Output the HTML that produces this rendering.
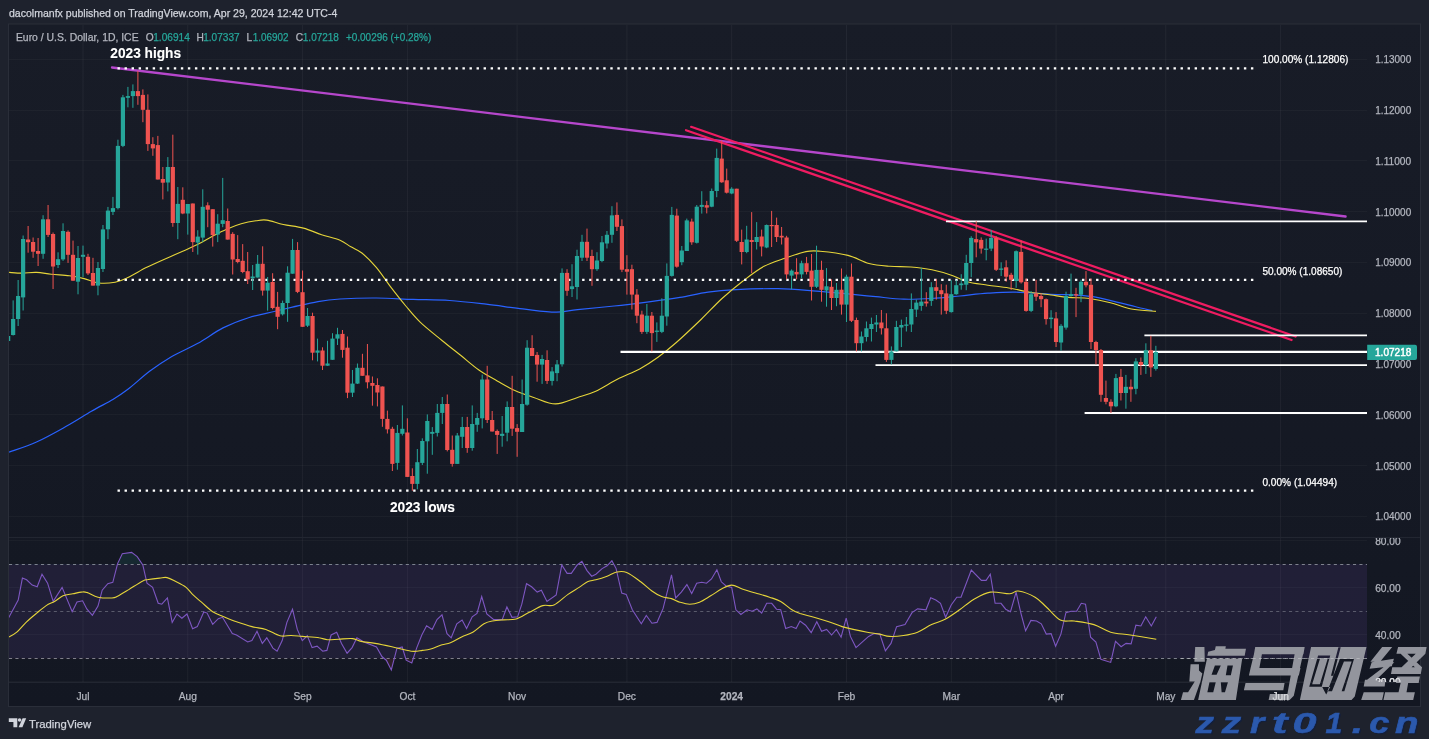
<!DOCTYPE html>
<html><head><meta charset="utf-8"><style>
html,body{margin:0;padding:0;background:#1e222d;width:1429px;height:739px;overflow:hidden}
svg{position:absolute;left:0;top:0;display:block;will-change:transform}
text{font-family:"Liberation Sans",sans-serif;white-space:pre}
</style></head><body>
<svg width="1429" height="739" viewBox="0 0 1429 739">

<text x="9" y="17.2" font-size="10.8" fill="#d1d4dc" stroke="#d1d4dc" stroke-width="0.25" textLength="328.3" lengthAdjust="spacingAndGlyphs">dacolmanfx published on TradingView.com, Apr 29, 2024 12:42 UTC-4</text>
<defs><linearGradient id="bgg" x1="0" y1="0" x2="0" y2="1"><stop offset="0" stop-color="#181c27"/><stop offset="1" stop-color="#131722"/></linearGradient></defs>
<rect x="8.5" y="24" width="1412" height="682.5" fill="url(#bgg)" stroke="#2a2e39" stroke-width="1"/>
<defs><clipPath id="pp"><rect x="9" y="25" width="1358" height="512"/></clipPath><clipPath id="rp"><rect x="9" y="538" width="1358" height="144"/></clipPath><clipPath id="ra"><rect x="1367" y="538" width="53" height="144"/></clipPath></defs>
<line x1="9" y1="59.5" x2="1367" y2="59.5" stroke="#ffffff" stroke-opacity="0.03" stroke-width="1"/><line x1="9" y1="110.5" x2="1367" y2="110.5" stroke="#ffffff" stroke-opacity="0.03" stroke-width="1"/><line x1="9" y1="160.5" x2="1367" y2="160.5" stroke="#ffffff" stroke-opacity="0.03" stroke-width="1"/><line x1="9" y1="211.5" x2="1367" y2="211.5" stroke="#ffffff" stroke-opacity="0.03" stroke-width="1"/><line x1="9" y1="262.5" x2="1367" y2="262.5" stroke="#ffffff" stroke-opacity="0.03" stroke-width="1"/><line x1="9" y1="313.5" x2="1367" y2="313.5" stroke="#ffffff" stroke-opacity="0.03" stroke-width="1"/><line x1="9" y1="364.5" x2="1367" y2="364.5" stroke="#ffffff" stroke-opacity="0.03" stroke-width="1"/><line x1="9" y1="414.5" x2="1367" y2="414.5" stroke="#ffffff" stroke-opacity="0.03" stroke-width="1"/><line x1="9" y1="465.5" x2="1367" y2="465.5" stroke="#ffffff" stroke-opacity="0.03" stroke-width="1"/><line x1="9" y1="516.5" x2="1367" y2="516.5" stroke="#ffffff" stroke-opacity="0.03" stroke-width="1"/><line x1="83.0" y1="25" x2="83.0" y2="682" stroke="#ffffff" stroke-opacity="0.05" stroke-width="1"/><line x1="187.8" y1="25" x2="187.8" y2="682" stroke="#ffffff" stroke-opacity="0.05" stroke-width="1"/><line x1="302.6" y1="25" x2="302.6" y2="682" stroke="#ffffff" stroke-opacity="0.05" stroke-width="1"/><line x1="407.4" y1="25" x2="407.4" y2="682" stroke="#ffffff" stroke-opacity="0.05" stroke-width="1"/><line x1="517.1" y1="25" x2="517.1" y2="682" stroke="#ffffff" stroke-opacity="0.05" stroke-width="1"/><line x1="626.9" y1="25" x2="626.9" y2="682" stroke="#ffffff" stroke-opacity="0.05" stroke-width="1"/><line x1="731.7" y1="25" x2="731.7" y2="682" stroke="#ffffff" stroke-opacity="0.05" stroke-width="1"/><line x1="846.5" y1="25" x2="846.5" y2="682" stroke="#ffffff" stroke-opacity="0.05" stroke-width="1"/><line x1="951.3" y1="25" x2="951.3" y2="682" stroke="#ffffff" stroke-opacity="0.05" stroke-width="1"/><line x1="1056.1" y1="25" x2="1056.1" y2="682" stroke="#ffffff" stroke-opacity="0.05" stroke-width="1"/><line x1="1165.8" y1="25" x2="1165.8" y2="682" stroke="#ffffff" stroke-opacity="0.05" stroke-width="1"/><line x1="1280.6" y1="25" x2="1280.6" y2="682" stroke="#ffffff" stroke-opacity="0.05" stroke-width="1"/>
<rect x="9" y="564.2" width="1358" height="94.1" fill="#7e57c2" fill-opacity="0.13"/>
<line x1="9" y1="540.5" x2="1367" y2="540.5" stroke="#ffffff" stroke-opacity="0.03" stroke-width="1"/>
<line x1="9" y1="587.5" x2="1367" y2="587.5" stroke="#ffffff" stroke-opacity="0.03" stroke-width="1"/>
<line x1="9" y1="634.5" x2="1367" y2="634.5" stroke="#ffffff" stroke-opacity="0.03" stroke-width="1"/>
<line x1="9" y1="681.5" x2="1367" y2="681.5" stroke="#ffffff" stroke-opacity="0.03" stroke-width="1"/>
<line x1="9" y1="564.5" x2="1367" y2="564.5" stroke="#8a8d98" stroke-width="1" stroke-dasharray="3.1,3.3" opacity="0.9"/>
<line x1="9" y1="611.5" x2="1367" y2="611.5" stroke="#8a8d98" stroke-width="1" stroke-dasharray="3.1,3.3" opacity="0.55"/>
<line x1="9" y1="658.5" x2="1367" y2="658.5" stroke="#8a8d98" stroke-width="1" stroke-dasharray="3.1,3.3" opacity="0.9"/>
<line x1="9" y1="537.5" x2="1420" y2="537.5" stroke="#222631" stroke-width="1"/>
<line x1="9" y1="682.5" x2="1420" y2="682.5" stroke="#222631" stroke-width="1"/>
<g clip-path="url(#pp)">
<path d="M9.1,452.2 C13.7,450.5 27.1,446.3 36.5,442.0 C46.0,437.7 56.6,431.7 65.8,426.6 C75.0,421.5 83.5,415.9 91.4,411.3 C99.3,406.7 107.2,402.9 113.3,399.2 C119.4,395.5 121.8,394.0 127.9,389.3 C134.0,384.6 142.6,376.6 149.9,371.1 C157.2,365.6 163.9,361.0 171.8,356.4 C179.7,351.8 188.9,348.4 197.4,343.6 C205.9,338.9 214.5,332.2 223.0,327.9 C231.5,323.6 240.0,320.4 248.5,317.7 C257.0,315.0 266.8,313.3 274.1,311.5 C281.4,309.7 285.1,308.8 292.4,307.1 C299.7,305.5 310.1,303.0 318.0,301.6 C325.9,300.2 330.2,299.6 340.0,299.0 C349.8,298.4 364.3,297.9 376.5,298.0 C388.7,298.1 400.9,299.0 413.1,299.4 C425.3,299.8 437.4,299.7 449.6,300.5 C461.8,301.3 474.0,302.8 486.2,304.2 C498.4,305.6 511.1,307.6 522.7,308.9 C534.3,310.2 546.5,312.1 555.6,312.2 C564.8,312.3 567.9,310.6 577.6,309.6 C587.4,308.6 601.9,307.3 614.1,306.0 C626.3,304.7 639.7,303.0 650.7,301.6 C661.7,300.2 670.5,299.0 680.0,297.4 C689.5,295.8 698.7,293.5 708.0,292.2 C717.3,290.9 724.3,290.3 736.0,289.7 C747.7,289.1 765.2,288.5 778.0,288.7 C790.8,288.9 801.3,289.9 813.0,290.8 C824.7,291.7 837.5,292.9 848.0,293.9 C858.5,294.9 866.6,295.8 875.9,296.7 C885.2,297.6 894.6,298.9 903.9,299.2 C913.2,299.5 922.6,299.0 931.9,298.5 C941.2,298.0 950.6,296.9 959.9,296.0 C969.2,295.1 978.6,293.8 987.9,293.2 C997.2,292.6 1005.4,292.0 1015.9,292.2 C1026.4,292.4 1041.0,293.8 1050.9,294.3 C1060.8,294.8 1068.4,294.6 1075.4,295.0 C1082.4,295.4 1086.5,295.6 1092.9,296.7 C1099.3,297.8 1106.9,299.7 1113.9,301.3 C1120.9,302.9 1128.5,304.9 1134.9,306.5 C1141.3,308.1 1149.5,310.0 1152.4,310.7" fill="none" stroke="#2962ff" stroke-width="1.2"/>
<path d="M9.1,272.4 C11.2,272.5 17.3,273.1 21.9,273.1 C26.5,273.1 31.6,272.2 36.5,272.4 C41.4,272.6 45.7,273.6 51.2,274.2 C56.7,274.8 63.9,275.0 69.4,275.7 C74.9,276.4 79.2,277.4 84.1,278.6 C89.0,279.8 93.5,282.4 98.7,283.0 C103.9,283.6 110.2,283.1 115.1,282.2 C120.0,281.3 122.7,279.9 127.9,277.5 C133.1,275.1 140.1,270.7 146.2,267.6 C152.3,264.6 158.4,261.9 164.5,259.2 C170.6,256.5 177.2,253.6 182.7,251.2 C188.2,248.8 192.5,247.0 197.4,244.6 C202.3,242.2 207.1,239.1 212.0,236.5 C216.9,233.9 221.7,231.3 226.6,229.2 C231.5,227.1 236.3,225.2 241.2,223.8 C246.1,222.4 251.5,221.4 255.8,220.8 C260.1,220.2 262.2,219.5 266.8,220.1 C271.4,220.7 277.2,223.2 283.3,224.5 C289.4,225.8 297.0,226.4 303.4,228.1 C309.8,229.8 315.5,232.7 321.6,234.7 C327.7,236.7 335.1,238.2 340.0,240.2 C344.9,242.2 347.2,244.7 350.9,246.8 C354.5,248.9 357.6,249.5 361.9,253.0 C366.2,256.5 371.6,261.8 376.5,267.6 C381.4,273.4 386.3,281.3 391.2,287.7 C396.1,294.1 400.9,300.2 405.8,306.0 C410.7,311.8 414.3,316.6 420.4,322.4 C426.5,328.2 435.6,335.2 442.3,340.7 C449.0,346.2 454.5,350.4 460.6,355.3 C466.7,360.2 472.8,365.7 478.9,370.0 C485.0,374.3 491.1,377.4 497.2,380.9 C503.3,384.4 509.3,388.1 515.4,390.8 C521.5,393.6 527.0,395.2 533.7,397.4 C540.4,399.6 548.3,403.9 555.6,403.9 C562.9,403.9 570.9,399.5 577.6,397.4 C584.3,395.3 589.1,394.2 595.8,391.2 C602.5,388.1 610.5,382.8 617.8,379.1 C625.1,375.4 633.0,372.5 639.7,368.9 C646.4,365.2 651.9,361.6 658.0,357.2 C664.1,352.8 669.1,348.8 676.3,342.5 C683.5,336.2 693.4,326.8 701.0,319.5 C708.6,312.2 715.0,304.9 722.0,298.5 C729.0,292.1 736.0,286.4 743.0,281.0 C750.0,275.6 757.0,270.1 764.0,266.3 C771.0,262.5 778.0,260.6 785.0,258.2 C792.0,255.8 800.2,252.8 806.0,251.6 C811.8,250.4 813.0,250.6 820.0,251.2 C827.0,251.8 839.9,253.3 848.0,255.4 C856.1,257.4 861.9,261.7 868.9,263.5 C875.9,265.3 882.9,265.7 889.9,266.3 C896.9,266.9 903.9,266.4 910.9,267.0 C917.9,267.6 924.9,268.4 931.9,269.8 C938.9,271.2 947.1,273.7 952.9,275.7 C958.7,277.7 961.1,280.1 966.9,281.7 C972.7,283.3 980.9,284.1 987.9,285.2 C994.9,286.2 1001.9,286.8 1008.9,288.0 C1015.9,289.2 1022.9,291.0 1029.9,292.2 C1036.9,293.4 1044.5,294.1 1050.9,295.0 C1057.3,295.9 1062.0,296.8 1068.4,297.4 C1074.8,298.0 1082.4,297.6 1089.4,298.5 C1096.4,299.4 1103.4,300.9 1110.4,302.7 C1117.4,304.4 1123.8,307.6 1131.4,309.0 C1139.0,310.4 1151.8,311.0 1155.9,311.4" fill="none" stroke="#e6d53a" stroke-width="1.1"/>
<line x1="112" y1="67.5" x2="1345.6" y2="216.5" stroke="#b647cc" stroke-width="2.3" stroke-linecap="round"/>
<line x1="691.1" y1="126.8" x2="1295.7" y2="336.5" stroke="#ef1c61" stroke-width="2.2" stroke-linecap="round"/>
<line x1="686" y1="130.2" x2="1291.6" y2="340" stroke="#ef1c61" stroke-width="2.2" stroke-linecap="round"/>
<line x1="117.5" y1="68.4" x2="1254" y2="68.4" stroke="#ffffff" stroke-width="2.2" stroke-dasharray="2.4,4.64"/>
<line x1="117.5" y1="279.9" x2="1254" y2="279.9" stroke="#ffffff" stroke-width="2.2" stroke-dasharray="2.4,4.64"/>
<line x1="117.5" y1="490.6" x2="1254" y2="490.6" stroke="#ffffff" stroke-width="2.2" stroke-dasharray="2.4,4.64"/>
<line x1="946" y1="221.3" x2="1367" y2="221.3" stroke="#ffffff" stroke-width="1.8"/>
<line x1="620.5" y1="351.9" x2="1367" y2="351.9" stroke="#ffffff" stroke-width="2.2"/>
<line x1="875.5" y1="365.1" x2="1367" y2="365.1" stroke="#ffffff" stroke-width="1.8"/>
<line x1="1144.4" y1="335.3" x2="1367" y2="335.3" stroke="#ffffff" stroke-width="1.8"/>
<line x1="1084.6" y1="413" x2="1367" y2="413" stroke="#ffffff" stroke-width="1.8"/>
<rect x="7.65" y="334.0" width="1" height="8.0" fill="#26a69a"/><rect x="6.05" y="336.0" width="4.2" height="5.0" fill="#26a69a"/><rect x="12.64" y="300.4" width="1" height="35.1" fill="#26a69a"/><rect x="11.04" y="319.0" width="4.2" height="16.0" fill="#26a69a"/><rect x="17.63" y="280.0" width="1" height="46.0" fill="#26a69a"/><rect x="16.03" y="296.0" width="4.2" height="23.0" fill="#26a69a"/><rect x="22.62" y="235.5" width="1" height="75.0" fill="#26a69a"/><rect x="21.02" y="239.0" width="4.2" height="58.4" fill="#26a69a"/><rect x="27.61" y="226.0" width="1" height="26.7" fill="#ef5350"/><rect x="26.01" y="239.5" width="4.2" height="2.7" fill="#ef5350"/><rect x="32.60" y="237.5" width="1" height="20.3" fill="#ef5350"/><rect x="31.00" y="242.0" width="4.2" height="9.7" fill="#ef5350"/><rect x="37.59" y="238.0" width="1" height="28.0" fill="#ef5350"/><rect x="35.99" y="251.0" width="4.2" height="2.8" fill="#ef5350"/><rect x="42.58" y="215.2" width="1" height="43.6" fill="#26a69a"/><rect x="40.98" y="219.3" width="4.2" height="34.5" fill="#26a69a"/><rect x="47.57" y="205.0" width="1" height="32.0" fill="#ef5350"/><rect x="45.97" y="219.3" width="4.2" height="15.6" fill="#ef5350"/><rect x="52.56" y="232.5" width="1" height="56.5" fill="#ef5350"/><rect x="50.96" y="234.0" width="4.2" height="32.5" fill="#ef5350"/><rect x="57.55" y="252.3" width="1" height="15.7" fill="#26a69a"/><rect x="55.95" y="259.2" width="4.2" height="5.8" fill="#26a69a"/><rect x="62.54" y="223.3" width="1" height="37.6" fill="#26a69a"/><rect x="60.94" y="231.0" width="4.2" height="28.4" fill="#26a69a"/><rect x="67.53" y="230.4" width="1" height="32.5" fill="#ef5350"/><rect x="65.93" y="231.8" width="4.2" height="23.0" fill="#ef5350"/><rect x="72.52" y="240.6" width="1" height="40.4" fill="#ef5350"/><rect x="70.92" y="254.8" width="4.2" height="25.9" fill="#ef5350"/><rect x="77.51" y="246.0" width="1" height="48.3" fill="#26a69a"/><rect x="75.91" y="258.0" width="4.2" height="23.7" fill="#26a69a"/><rect x="82.50" y="245.6" width="1" height="31.4" fill="#26a69a"/><rect x="80.90" y="254.8" width="4.2" height="2.0" fill="#26a69a"/><rect x="87.49" y="253.8" width="1" height="21.2" fill="#ef5350"/><rect x="85.89" y="256.8" width="4.2" height="16.6" fill="#ef5350"/><rect x="92.48" y="257.8" width="1" height="27.8" fill="#ef5350"/><rect x="90.88" y="273.0" width="4.2" height="12.6" fill="#ef5350"/><rect x="97.47" y="262.0" width="1" height="33.3" fill="#26a69a"/><rect x="95.87" y="268.0" width="4.2" height="17.6" fill="#26a69a"/><rect x="102.46" y="225.0" width="1" height="47.0" fill="#26a69a"/><rect x="100.86" y="229.4" width="4.2" height="39.6" fill="#26a69a"/><rect x="107.45" y="206.9" width="1" height="32.3" fill="#26a69a"/><rect x="105.85" y="210.6" width="4.2" height="18.7" fill="#26a69a"/><rect x="112.44" y="196.9" width="1" height="18.1" fill="#26a69a"/><rect x="110.84" y="208.1" width="4.2" height="3.8" fill="#26a69a"/><rect x="117.43" y="139.7" width="1" height="69.7" fill="#26a69a"/><rect x="115.83" y="145.9" width="4.2" height="62.2" fill="#26a69a"/><rect x="122.42" y="94.9" width="1" height="52.2" fill="#26a69a"/><rect x="120.82" y="97.3" width="4.2" height="48.6" fill="#26a69a"/><rect x="127.41" y="86.9" width="1" height="20.4" fill="#26a69a"/><rect x="125.81" y="96.1" width="4.2" height="1.7" fill="#26a69a"/><rect x="132.40" y="84.4" width="1" height="23.4" fill="#26a69a"/><rect x="130.80" y="91.1" width="4.2" height="5.0" fill="#26a69a"/><rect x="137.39" y="70.8" width="1" height="34.0" fill="#ef5350"/><rect x="135.79" y="91.1" width="4.2" height="5.0" fill="#ef5350"/><rect x="142.38" y="89.4" width="1" height="32.8" fill="#ef5350"/><rect x="140.78" y="94.9" width="4.2" height="14.9" fill="#ef5350"/><rect x="147.37" y="94.4" width="1" height="56.5" fill="#ef5350"/><rect x="145.77" y="109.8" width="4.2" height="34.3" fill="#ef5350"/><rect x="152.36" y="137.2" width="1" height="18.6" fill="#ef5350"/><rect x="150.76" y="144.1" width="4.2" height="4.3" fill="#ef5350"/><rect x="157.35" y="135.9" width="1" height="43.6" fill="#ef5350"/><rect x="155.75" y="145.1" width="4.2" height="34.4" fill="#ef5350"/><rect x="162.34" y="167.0" width="1" height="32.4" fill="#ef5350"/><rect x="160.74" y="179.0" width="4.2" height="3.7" fill="#ef5350"/><rect x="167.33" y="157.1" width="1" height="34.3" fill="#26a69a"/><rect x="165.73" y="167.0" width="4.2" height="15.5" fill="#26a69a"/><rect x="172.32" y="134.7" width="1" height="92.1" fill="#ef5350"/><rect x="170.72" y="167.0" width="4.2" height="56.0" fill="#ef5350"/><rect x="177.31" y="187.0" width="1" height="52.2" fill="#26a69a"/><rect x="175.71" y="203.9" width="4.2" height="19.1" fill="#26a69a"/><rect x="182.30" y="187.3" width="1" height="26.9" fill="#ef5350"/><rect x="180.70" y="199.8" width="4.2" height="13.7" fill="#ef5350"/><rect x="187.29" y="204.0" width="1" height="30.6" fill="#26a69a"/><rect x="185.69" y="204.0" width="4.2" height="9.5" fill="#26a69a"/><rect x="192.28" y="203.5" width="1" height="48.5" fill="#ef5350"/><rect x="190.68" y="203.5" width="4.2" height="38.6" fill="#ef5350"/><rect x="197.27" y="230.2" width="1" height="24.4" fill="#26a69a"/><rect x="195.67" y="236.6" width="4.2" height="6.0" fill="#26a69a"/><rect x="202.26" y="189.3" width="1" height="52.8" fill="#26a69a"/><rect x="200.66" y="206.8" width="4.2" height="30.8" fill="#26a69a"/><rect x="207.25" y="202.3" width="1" height="24.9" fill="#ef5350"/><rect x="205.65" y="205.3" width="4.2" height="4.4" fill="#ef5350"/><rect x="212.24" y="209.2" width="1" height="37.4" fill="#ef5350"/><rect x="210.64" y="209.2" width="4.2" height="25.9" fill="#ef5350"/><rect x="217.23" y="214.2" width="1" height="27.9" fill="#26a69a"/><rect x="215.63" y="223.7" width="4.2" height="10.9" fill="#26a69a"/><rect x="222.22" y="177.9" width="1" height="49.3" fill="#26a69a"/><rect x="220.62" y="220.2" width="4.2" height="3.7" fill="#26a69a"/><rect x="227.21" y="208.5" width="1" height="31.1" fill="#ef5350"/><rect x="225.61" y="221.0" width="4.2" height="18.6" fill="#ef5350"/><rect x="232.20" y="232.2" width="1" height="42.3" fill="#ef5350"/><rect x="230.60" y="233.9" width="4.2" height="25.6" fill="#ef5350"/><rect x="237.19" y="235.1" width="1" height="28.2" fill="#ef5350"/><rect x="235.59" y="259.0" width="4.2" height="3.0" fill="#ef5350"/><rect x="242.18" y="244.1" width="1" height="29.1" fill="#ef5350"/><rect x="240.58" y="260.8" width="4.2" height="11.2" fill="#ef5350"/><rect x="247.17" y="252.0" width="1" height="32.0" fill="#ef5350"/><rect x="245.57" y="271.2" width="4.2" height="8.2" fill="#ef5350"/><rect x="252.16" y="265.0" width="1" height="25.0" fill="#26a69a"/><rect x="250.56" y="276.5" width="4.2" height="1.7" fill="#26a69a"/><rect x="257.15" y="255.0" width="1" height="22.5" fill="#26a69a"/><rect x="255.55" y="263.8" width="4.2" height="13.7" fill="#26a69a"/><rect x="262.14" y="246.3" width="1" height="49.3" fill="#ef5350"/><rect x="260.54" y="263.8" width="4.2" height="26.8" fill="#ef5350"/><rect x="267.13" y="277.0" width="1" height="33.6" fill="#26a69a"/><rect x="265.53" y="282.7" width="4.2" height="7.9" fill="#26a69a"/><rect x="272.12" y="273.2" width="1" height="36.1" fill="#ef5350"/><rect x="270.52" y="282.0" width="4.2" height="26.0" fill="#ef5350"/><rect x="277.11" y="291.9" width="1" height="37.3" fill="#ef5350"/><rect x="275.51" y="306.8" width="4.2" height="10.0" fill="#ef5350"/><rect x="282.10" y="300.6" width="1" height="14.9" fill="#26a69a"/><rect x="280.50" y="303.0" width="4.2" height="11.3" fill="#26a69a"/><rect x="287.09" y="266.3" width="1" height="55.5" fill="#26a69a"/><rect x="285.49" y="272.7" width="4.2" height="30.3" fill="#26a69a"/><rect x="292.08" y="238.9" width="1" height="34.8" fill="#26a69a"/><rect x="290.48" y="250.0" width="4.2" height="23.7" fill="#26a69a"/><rect x="297.07" y="242.1" width="1" height="51.0" fill="#ef5350"/><rect x="295.47" y="250.0" width="4.2" height="41.9" fill="#ef5350"/><rect x="302.06" y="270.5" width="1" height="56.3" fill="#ef5350"/><rect x="300.46" y="292.2" width="4.2" height="34.6" fill="#ef5350"/><rect x="307.05" y="308.0" width="1" height="19.0" fill="#26a69a"/><rect x="305.45" y="316.0" width="4.2" height="9.7" fill="#26a69a"/><rect x="312.04" y="312.7" width="1" height="47.6" fill="#ef5350"/><rect x="310.44" y="316.0" width="4.2" height="36.7" fill="#ef5350"/><rect x="317.03" y="338.6" width="1" height="22.8" fill="#26a69a"/><rect x="315.43" y="350.5" width="4.2" height="2.2" fill="#26a69a"/><rect x="322.02" y="347.3" width="1" height="22.7" fill="#ef5350"/><rect x="320.42" y="350.5" width="4.2" height="15.2" fill="#ef5350"/><rect x="327.01" y="340.8" width="1" height="24.9" fill="#26a69a"/><rect x="325.41" y="363.5" width="4.2" height="2.2" fill="#26a69a"/><rect x="332.00" y="333.2" width="1" height="26.6" fill="#26a69a"/><rect x="330.40" y="338.6" width="4.2" height="21.2" fill="#26a69a"/><rect x="336.99" y="327.8" width="1" height="17.2" fill="#26a69a"/><rect x="335.39" y="334.3" width="4.2" height="4.3" fill="#26a69a"/><rect x="341.98" y="330.0" width="1" height="27.7" fill="#ef5350"/><rect x="340.38" y="333.9" width="4.2" height="16.0" fill="#ef5350"/><rect x="346.97" y="336.5" width="1" height="61.6" fill="#ef5350"/><rect x="345.37" y="347.7" width="4.2" height="45.0" fill="#ef5350"/><rect x="351.96" y="370.0" width="1" height="27.0" fill="#26a69a"/><rect x="350.36" y="383.6" width="4.2" height="9.1" fill="#26a69a"/><rect x="356.95" y="363.5" width="1" height="20.5" fill="#26a69a"/><rect x="355.35" y="367.8" width="4.2" height="15.8" fill="#26a69a"/><rect x="361.94" y="353.8" width="1" height="22.0" fill="#ef5350"/><rect x="360.34" y="367.8" width="4.2" height="8.0" fill="#ef5350"/><rect x="366.93" y="344.0" width="1" height="44.4" fill="#ef5350"/><rect x="365.33" y="375.4" width="4.2" height="6.9" fill="#ef5350"/><rect x="371.92" y="376.5" width="1" height="29.2" fill="#ef5350"/><rect x="370.32" y="383.0" width="4.2" height="2.8" fill="#ef5350"/><rect x="376.91" y="378.3" width="1" height="28.1" fill="#ef5350"/><rect x="375.31" y="385.0" width="4.2" height="7.5" fill="#ef5350"/><rect x="381.90" y="386.5" width="1" height="40.3" fill="#ef5350"/><rect x="380.30" y="386.5" width="4.2" height="32.4" fill="#ef5350"/><rect x="386.89" y="410.6" width="1" height="22.9" fill="#ef5350"/><rect x="385.29" y="418.9" width="4.2" height="10.4" fill="#ef5350"/><rect x="391.88" y="426.8" width="1" height="44.2" fill="#ef5350"/><rect x="390.28" y="428.8" width="4.2" height="35.1" fill="#ef5350"/><rect x="396.87" y="425.0" width="1" height="44.7" fill="#26a69a"/><rect x="395.27" y="432.9" width="4.2" height="30.0" fill="#26a69a"/><rect x="401.86" y="405.4" width="1" height="30.1" fill="#26a69a"/><rect x="400.26" y="428.8" width="4.2" height="5.0" fill="#26a69a"/><rect x="406.85" y="418.3" width="1" height="58.6" fill="#ef5350"/><rect x="405.25" y="432.5" width="4.2" height="44.4" fill="#ef5350"/><rect x="411.84" y="468.3" width="1" height="22.4" fill="#ef5350"/><rect x="410.24" y="476.0" width="4.2" height="7.9" fill="#ef5350"/><rect x="416.83" y="449.0" width="1" height="40.3" fill="#26a69a"/><rect x="415.23" y="462.2" width="4.2" height="21.7" fill="#26a69a"/><rect x="421.82" y="438.3" width="1" height="26.7" fill="#26a69a"/><rect x="420.22" y="441.0" width="4.2" height="21.9" fill="#26a69a"/><rect x="426.81" y="414.4" width="1" height="59.3" fill="#26a69a"/><rect x="425.21" y="421.0" width="4.2" height="20.3" fill="#26a69a"/><rect x="431.80" y="427.1" width="1" height="27.7" fill="#26a69a"/><rect x="430.20" y="431.9" width="4.2" height="1.9" fill="#26a69a"/><rect x="436.79" y="404.0" width="1" height="32.5" fill="#26a69a"/><rect x="435.19" y="412.9" width="4.2" height="20.0" fill="#26a69a"/><rect x="441.78" y="397.0" width="1" height="27.0" fill="#26a69a"/><rect x="440.18" y="404.0" width="4.2" height="8.9" fill="#26a69a"/><rect x="446.77" y="394.5" width="1" height="56.9" fill="#ef5350"/><rect x="445.17" y="404.0" width="4.2" height="46.0" fill="#ef5350"/><rect x="451.76" y="435.5" width="1" height="31.1" fill="#ef5350"/><rect x="450.16" y="449.8" width="4.2" height="14.1" fill="#ef5350"/><rect x="456.75" y="433.0" width="1" height="30.9" fill="#26a69a"/><rect x="455.15" y="435.5" width="4.2" height="28.4" fill="#26a69a"/><rect x="461.74" y="416.9" width="1" height="31.1" fill="#26a69a"/><rect x="460.14" y="427.0" width="4.2" height="9.8" fill="#26a69a"/><rect x="466.73" y="416.9" width="1" height="35.9" fill="#ef5350"/><rect x="465.13" y="427.0" width="4.2" height="21.0" fill="#ef5350"/><rect x="471.72" y="405.4" width="1" height="45.3" fill="#26a69a"/><rect x="470.12" y="424.0" width="4.2" height="24.0" fill="#26a69a"/><rect x="476.71" y="412.9" width="1" height="18.9" fill="#26a69a"/><rect x="475.11" y="418.0" width="4.2" height="6.8" fill="#26a69a"/><rect x="481.70" y="374.6" width="1" height="53.8" fill="#26a69a"/><rect x="480.10" y="379.5" width="4.2" height="38.8" fill="#26a69a"/><rect x="486.69" y="365.8" width="1" height="57.2" fill="#ef5350"/><rect x="485.09" y="379.5" width="4.2" height="40.5" fill="#ef5350"/><rect x="491.68" y="411.0" width="1" height="20.5" fill="#ef5350"/><rect x="490.08" y="420.0" width="4.2" height="11.5" fill="#ef5350"/><rect x="496.67" y="429.5" width="1" height="24.4" fill="#ef5350"/><rect x="495.07" y="431.0" width="4.2" height="3.9" fill="#ef5350"/><rect x="501.66" y="416.0" width="1" height="30.7" fill="#26a69a"/><rect x="500.06" y="433.8" width="4.2" height="2.1" fill="#26a69a"/><rect x="506.65" y="401.4" width="1" height="39.9" fill="#26a69a"/><rect x="505.05" y="407.0" width="4.2" height="25.7" fill="#26a69a"/><rect x="511.64" y="375.8" width="1" height="60.1" fill="#ef5350"/><rect x="510.04" y="407.0" width="4.2" height="21.7" fill="#ef5350"/><rect x="516.63" y="424.1" width="1" height="32.7" fill="#ef5350"/><rect x="515.03" y="428.1" width="4.2" height="3.7" fill="#ef5350"/><rect x="521.62" y="379.5" width="1" height="52.5" fill="#26a69a"/><rect x="520.02" y="404.0" width="4.2" height="28.0" fill="#26a69a"/><rect x="526.61" y="340.2" width="1" height="65.5" fill="#26a69a"/><rect x="525.01" y="347.7" width="4.2" height="57.0" fill="#26a69a"/><rect x="531.60" y="335.2" width="1" height="20.8" fill="#ef5350"/><rect x="530.00" y="348.0" width="4.2" height="8.0" fill="#ef5350"/><rect x="536.59" y="352.0" width="1" height="29.7" fill="#ef5350"/><rect x="534.99" y="354.9" width="4.2" height="9.7" fill="#ef5350"/><rect x="541.58" y="354.9" width="1" height="29.0" fill="#26a69a"/><rect x="539.98" y="359.0" width="4.2" height="5.6" fill="#26a69a"/><rect x="546.57" y="350.3" width="1" height="33.6" fill="#ef5350"/><rect x="544.97" y="360.0" width="4.2" height="20.9" fill="#ef5350"/><rect x="551.56" y="367.1" width="1" height="18.4" fill="#26a69a"/><rect x="549.96" y="371.4" width="4.2" height="9.5" fill="#26a69a"/><rect x="556.55" y="360.0" width="1" height="21.2" fill="#26a69a"/><rect x="554.95" y="364.4" width="4.2" height="8.7" fill="#26a69a"/><rect x="561.54" y="268.4" width="1" height="98.2" fill="#26a69a"/><rect x="559.94" y="272.9" width="4.2" height="91.4" fill="#26a69a"/><rect x="566.53" y="269.2" width="1" height="26.6" fill="#ef5350"/><rect x="564.93" y="272.9" width="4.2" height="17.9" fill="#ef5350"/><rect x="571.52" y="264.2" width="1" height="32.8" fill="#26a69a"/><rect x="569.92" y="286.3" width="4.2" height="2.8" fill="#26a69a"/><rect x="576.51" y="249.7" width="1" height="49.8" fill="#26a69a"/><rect x="574.91" y="256.0" width="4.2" height="31.0" fill="#26a69a"/><rect x="581.50" y="234.8" width="1" height="26.2" fill="#26a69a"/><rect x="579.90" y="241.8" width="4.2" height="15.9" fill="#26a69a"/><rect x="586.49" y="228.6" width="1" height="32.4" fill="#ef5350"/><rect x="584.89" y="241.8" width="4.2" height="15.9" fill="#ef5350"/><rect x="591.48" y="249.7" width="1" height="36.1" fill="#ef5350"/><rect x="589.88" y="256.0" width="4.2" height="13.2" fill="#ef5350"/><rect x="596.47" y="252.2" width="1" height="18.7" fill="#26a69a"/><rect x="594.87" y="260.5" width="4.2" height="8.7" fill="#26a69a"/><rect x="601.46" y="236.0" width="1" height="26.2" fill="#26a69a"/><rect x="599.86" y="242.3" width="4.2" height="18.7" fill="#26a69a"/><rect x="606.45" y="231.0" width="1" height="17.5" fill="#26a69a"/><rect x="604.85" y="234.8" width="4.2" height="8.7" fill="#26a69a"/><rect x="611.44" y="206.2" width="1" height="36.6" fill="#26a69a"/><rect x="609.84" y="215.4" width="4.2" height="19.4" fill="#26a69a"/><rect x="616.43" y="202.4" width="1" height="28.6" fill="#ef5350"/><rect x="614.83" y="214.9" width="4.2" height="11.9" fill="#ef5350"/><rect x="621.42" y="219.4" width="1" height="52.7" fill="#ef5350"/><rect x="619.82" y="226.1" width="4.2" height="43.6" fill="#ef5350"/><rect x="626.41" y="255.2" width="1" height="39.4" fill="#ef5350"/><rect x="624.81" y="269.2" width="4.2" height="2.5" fill="#ef5350"/><rect x="631.40" y="264.7" width="1" height="44.8" fill="#ef5350"/><rect x="629.80" y="269.2" width="4.2" height="25.4" fill="#ef5350"/><rect x="636.39" y="289.1" width="1" height="34.1" fill="#ef5350"/><rect x="634.79" y="294.6" width="4.2" height="21.1" fill="#ef5350"/><rect x="641.38" y="310.7" width="1" height="23.2" fill="#ef5350"/><rect x="639.78" y="314.5" width="4.2" height="17.4" fill="#ef5350"/><rect x="646.37" y="304.0" width="1" height="29.9" fill="#26a69a"/><rect x="644.77" y="315.7" width="4.2" height="16.2" fill="#26a69a"/><rect x="651.36" y="312.0" width="1" height="39.3" fill="#ef5350"/><rect x="649.76" y="315.7" width="4.2" height="17.4" fill="#ef5350"/><rect x="656.35" y="322.4" width="1" height="19.5" fill="#26a69a"/><rect x="654.75" y="330.6" width="4.2" height="1.3" fill="#26a69a"/><rect x="661.34" y="298.3" width="1" height="34.8" fill="#26a69a"/><rect x="659.74" y="315.7" width="4.2" height="16.2" fill="#26a69a"/><rect x="666.33" y="263.4" width="1" height="62.3" fill="#26a69a"/><rect x="664.73" y="275.9" width="4.2" height="40.6" fill="#26a69a"/><rect x="671.32" y="206.9" width="1" height="69.7" fill="#26a69a"/><rect x="669.72" y="214.9" width="4.2" height="61.0" fill="#26a69a"/><rect x="676.31" y="208.7" width="1" height="59.0" fill="#ef5350"/><rect x="674.71" y="215.6" width="4.2" height="51.1" fill="#ef5350"/><rect x="681.30" y="246.0" width="1" height="19.2" fill="#26a69a"/><rect x="679.70" y="250.5" width="4.2" height="11.7" fill="#26a69a"/><rect x="686.29" y="218.6" width="1" height="32.4" fill="#26a69a"/><rect x="684.69" y="220.4" width="4.2" height="30.6" fill="#26a69a"/><rect x="691.28" y="218.6" width="1" height="26.2" fill="#ef5350"/><rect x="689.68" y="221.6" width="4.2" height="20.7" fill="#ef5350"/><rect x="696.27" y="205.0" width="1" height="38.5" fill="#26a69a"/><rect x="694.67" y="206.7" width="4.2" height="36.1" fill="#26a69a"/><rect x="701.26" y="191.2" width="1" height="22.4" fill="#26a69a"/><rect x="699.66" y="204.9" width="4.2" height="2.0" fill="#26a69a"/><rect x="706.25" y="200.9" width="1" height="12.5" fill="#ef5350"/><rect x="704.65" y="205.2" width="4.2" height="2.4" fill="#ef5350"/><rect x="711.24" y="188.5" width="1" height="18.7" fill="#26a69a"/><rect x="709.64" y="191.0" width="4.2" height="15.7" fill="#26a69a"/><rect x="716.23" y="148.6" width="1" height="48.6" fill="#26a69a"/><rect x="714.63" y="157.9" width="4.2" height="33.1" fill="#26a69a"/><rect x="721.22" y="140.4" width="1" height="42.4" fill="#ef5350"/><rect x="719.62" y="158.6" width="4.2" height="23.7" fill="#ef5350"/><rect x="726.21" y="168.6" width="1" height="24.9" fill="#ef5350"/><rect x="724.61" y="180.3" width="4.2" height="12.4" fill="#ef5350"/><rect x="731.20" y="187.2" width="1" height="7.0" fill="#26a69a"/><rect x="729.60" y="188.7" width="4.2" height="4.8" fill="#26a69a"/><rect x="736.19" y="188.7" width="1" height="53.3" fill="#ef5350"/><rect x="734.59" y="188.7" width="4.2" height="52.1" fill="#ef5350"/><rect x="741.18" y="229.6" width="1" height="34.8" fill="#ef5350"/><rect x="739.58" y="242.0" width="4.2" height="10.0" fill="#ef5350"/><rect x="746.17" y="225.8" width="1" height="27.4" fill="#26a69a"/><rect x="744.57" y="239.5" width="4.2" height="12.5" fill="#26a69a"/><rect x="751.16" y="212.1" width="1" height="61.0" fill="#ef5350"/><rect x="749.56" y="240.0" width="4.2" height="2.0" fill="#ef5350"/><rect x="756.15" y="222.1" width="1" height="27.4" fill="#26a69a"/><rect x="754.55" y="237.0" width="4.2" height="5.0" fill="#26a69a"/><rect x="761.14" y="229.6" width="1" height="26.8" fill="#ef5350"/><rect x="759.54" y="236.5" width="4.2" height="10.0" fill="#ef5350"/><rect x="766.13" y="224.5" width="1" height="23.7" fill="#26a69a"/><rect x="764.53" y="225.0" width="4.2" height="22.5" fill="#26a69a"/><rect x="771.12" y="210.9" width="1" height="36.1" fill="#ef5350"/><rect x="769.52" y="225.0" width="4.2" height="1.2" fill="#ef5350"/><rect x="776.11" y="217.6" width="1" height="24.4" fill="#ef5350"/><rect x="774.51" y="225.0" width="4.2" height="12.0" fill="#ef5350"/><rect x="781.10" y="227.0" width="1" height="17.5" fill="#ef5350"/><rect x="779.50" y="235.8" width="4.2" height="1.7" fill="#ef5350"/><rect x="786.09" y="235.8" width="1" height="43.5" fill="#ef5350"/><rect x="784.49" y="237.5" width="4.2" height="36.9" fill="#ef5350"/><rect x="791.08" y="269.4" width="1" height="19.9" fill="#26a69a"/><rect x="789.48" y="270.6" width="4.2" height="5.0" fill="#26a69a"/><rect x="796.07" y="258.2" width="1" height="21.1" fill="#ef5350"/><rect x="794.47" y="271.9" width="4.2" height="2.5" fill="#ef5350"/><rect x="801.06" y="260.7" width="1" height="17.4" fill="#26a69a"/><rect x="799.46" y="263.2" width="4.2" height="11.2" fill="#26a69a"/><rect x="806.05" y="256.9" width="1" height="17.5" fill="#ef5350"/><rect x="804.45" y="263.2" width="4.2" height="8.7" fill="#ef5350"/><rect x="811.04" y="254.0" width="1" height="46.5" fill="#ef5350"/><rect x="809.44" y="270.6" width="4.2" height="16.2" fill="#ef5350"/><rect x="816.03" y="245.7" width="1" height="42.3" fill="#26a69a"/><rect x="814.43" y="269.9" width="4.2" height="16.9" fill="#26a69a"/><rect x="821.02" y="260.7" width="1" height="41.0" fill="#ef5350"/><rect x="819.42" y="269.9" width="4.2" height="19.9" fill="#ef5350"/><rect x="826.01" y="268.1" width="1" height="38.6" fill="#26a69a"/><rect x="824.41" y="286.3" width="4.2" height="4.2" fill="#26a69a"/><rect x="831.00" y="279.3" width="1" height="30.7" fill="#ef5350"/><rect x="829.40" y="286.8" width="4.2" height="11.2" fill="#ef5350"/><rect x="835.99" y="283.0" width="1" height="23.2" fill="#26a69a"/><rect x="834.39" y="289.8" width="4.2" height="8.2" fill="#26a69a"/><rect x="840.98" y="268.5" width="1" height="46.1" fill="#ef5350"/><rect x="839.38" y="289.7" width="4.2" height="14.9" fill="#ef5350"/><rect x="845.97" y="274.7" width="1" height="47.3" fill="#26a69a"/><rect x="844.37" y="276.7" width="4.2" height="27.9" fill="#26a69a"/><rect x="850.96" y="263.5" width="1" height="58.5" fill="#ef5350"/><rect x="849.36" y="276.7" width="4.2" height="44.1" fill="#ef5350"/><rect x="855.95" y="317.6" width="1" height="33.8" fill="#ef5350"/><rect x="854.35" y="320.0" width="4.2" height="23.2" fill="#ef5350"/><rect x="860.94" y="331.5" width="1" height="19.9" fill="#26a69a"/><rect x="859.34" y="336.5" width="4.2" height="6.7" fill="#26a69a"/><rect x="865.93" y="321.5" width="1" height="20.0" fill="#26a69a"/><rect x="864.33" y="328.3" width="4.2" height="8.7" fill="#26a69a"/><rect x="870.92" y="317.6" width="1" height="23.9" fill="#26a69a"/><rect x="869.32" y="324.0" width="4.2" height="5.0" fill="#26a69a"/><rect x="875.91" y="315.0" width="1" height="17.0" fill="#26a69a"/><rect x="874.31" y="322.5" width="4.2" height="2.0" fill="#26a69a"/><rect x="880.90" y="310.0" width="1" height="24.5" fill="#ef5350"/><rect x="879.30" y="322.5" width="4.2" height="5.8" fill="#ef5350"/><rect x="885.89" y="313.3" width="1" height="48.6" fill="#ef5350"/><rect x="884.29" y="328.3" width="4.2" height="31.6" fill="#ef5350"/><rect x="890.88" y="346.4" width="1" height="18.0" fill="#26a69a"/><rect x="889.28" y="351.4" width="4.2" height="8.5" fill="#26a69a"/><rect x="895.87" y="320.8" width="1" height="30.6" fill="#26a69a"/><rect x="894.27" y="327.0" width="4.2" height="24.4" fill="#26a69a"/><rect x="900.86" y="319.6" width="1" height="27.4" fill="#26a69a"/><rect x="899.26" y="325.0" width="4.2" height="2.5" fill="#26a69a"/><rect x="905.85" y="317.0" width="1" height="14.5" fill="#26a69a"/><rect x="904.25" y="324.5" width="4.2" height="1.3" fill="#26a69a"/><rect x="910.84" y="293.4" width="1" height="38.6" fill="#26a69a"/><rect x="909.24" y="309.0" width="4.2" height="15.5" fill="#26a69a"/><rect x="915.83" y="299.6" width="1" height="17.4" fill="#26a69a"/><rect x="914.23" y="302.6" width="4.2" height="7.0" fill="#26a69a"/><rect x="920.82" y="267.8" width="1" height="43.0" fill="#26a69a"/><rect x="919.22" y="301.6" width="4.2" height="4.3" fill="#26a69a"/><rect x="925.81" y="292.2" width="1" height="14.4" fill="#ef5350"/><rect x="924.21" y="301.6" width="4.2" height="1.8" fill="#ef5350"/><rect x="930.80" y="282.2" width="1" height="23.7" fill="#26a69a"/><rect x="929.20" y="287.2" width="4.2" height="13.7" fill="#26a69a"/><rect x="935.79" y="279.2" width="1" height="20.4" fill="#ef5350"/><rect x="934.19" y="287.2" width="4.2" height="3.7" fill="#ef5350"/><rect x="940.78" y="284.2" width="1" height="30.4" fill="#ef5350"/><rect x="939.18" y="290.2" width="4.2" height="4.0" fill="#ef5350"/><rect x="945.77" y="284.7" width="1" height="29.4" fill="#ef5350"/><rect x="944.17" y="293.4" width="4.2" height="17.4" fill="#ef5350"/><rect x="950.76" y="280.2" width="1" height="32.4" fill="#26a69a"/><rect x="949.16" y="294.2" width="4.2" height="17.9" fill="#26a69a"/><rect x="955.75" y="280.2" width="1" height="14.5" fill="#26a69a"/><rect x="954.15" y="285.2" width="4.2" height="9.0" fill="#26a69a"/><rect x="960.74" y="274.2" width="1" height="15.5" fill="#26a69a"/><rect x="959.14" y="283.5" width="4.2" height="1.7" fill="#26a69a"/><rect x="965.73" y="254.8" width="1" height="35.4" fill="#26a69a"/><rect x="964.13" y="263.0" width="4.2" height="21.7" fill="#26a69a"/><rect x="970.72" y="236.2" width="1" height="41.0" fill="#26a69a"/><rect x="969.12" y="237.9" width="4.2" height="25.1" fill="#26a69a"/><rect x="975.71" y="221.2" width="1" height="36.1" fill="#ef5350"/><rect x="974.11" y="239.1" width="4.2" height="3.3" fill="#ef5350"/><rect x="980.70" y="237.4" width="1" height="16.2" fill="#ef5350"/><rect x="979.10" y="239.9" width="4.2" height="8.7" fill="#ef5350"/><rect x="985.69" y="238.6" width="1" height="21.7" fill="#26a69a"/><rect x="984.09" y="248.6" width="4.2" height="1.2" fill="#26a69a"/><rect x="990.68" y="230.0" width="1" height="21.1" fill="#26a69a"/><rect x="989.08" y="237.9" width="4.2" height="10.7" fill="#26a69a"/><rect x="995.67" y="236.2" width="1" height="34.8" fill="#ef5350"/><rect x="994.07" y="237.9" width="4.2" height="31.9" fill="#ef5350"/><rect x="1000.66" y="262.3" width="1" height="13.7" fill="#26a69a"/><rect x="999.06" y="268.5" width="4.2" height="1.3" fill="#26a69a"/><rect x="1005.65" y="260.3" width="1" height="21.4" fill="#ef5350"/><rect x="1004.05" y="267.3" width="4.2" height="9.4" fill="#ef5350"/><rect x="1010.64" y="272.8" width="1" height="17.2" fill="#ef5350"/><rect x="1009.04" y="274.8" width="4.2" height="5.0" fill="#ef5350"/><rect x="1015.63" y="250.4" width="1" height="37.4" fill="#26a69a"/><rect x="1014.03" y="251.2" width="4.2" height="29.8" fill="#26a69a"/><rect x="1020.62" y="240.5" width="1" height="43.0" fill="#ef5350"/><rect x="1019.02" y="251.9" width="4.2" height="30.4" fill="#ef5350"/><rect x="1025.61" y="278.5" width="1" height="33.2" fill="#ef5350"/><rect x="1024.01" y="281.8" width="4.2" height="29.1" fill="#ef5350"/><rect x="1030.60" y="291.0" width="1" height="21.1" fill="#26a69a"/><rect x="1029.00" y="294.2" width="4.2" height="16.7" fill="#26a69a"/><rect x="1035.59" y="279.8" width="1" height="21.1" fill="#ef5350"/><rect x="1033.99" y="293.5" width="4.2" height="3.2" fill="#ef5350"/><rect x="1040.58" y="293.5" width="1" height="13.7" fill="#ef5350"/><rect x="1038.98" y="296.0" width="4.2" height="3.2" fill="#ef5350"/><rect x="1045.57" y="298.5" width="1" height="26.1" fill="#ef5350"/><rect x="1043.97" y="299.2" width="4.2" height="19.9" fill="#ef5350"/><rect x="1050.56" y="310.2" width="1" height="18.1" fill="#26a69a"/><rect x="1048.96" y="317.6" width="4.2" height="1.5" fill="#26a69a"/><rect x="1055.55" y="312.1" width="1" height="34.9" fill="#ef5350"/><rect x="1053.95" y="318.4" width="4.2" height="23.6" fill="#ef5350"/><rect x="1060.54" y="324.1" width="1" height="26.6" fill="#26a69a"/><rect x="1058.94" y="325.8" width="4.2" height="16.7" fill="#26a69a"/><rect x="1065.53" y="291.7" width="1" height="37.9" fill="#26a69a"/><rect x="1063.93" y="296.0" width="4.2" height="31.6" fill="#26a69a"/><rect x="1070.52" y="273.6" width="1" height="23.1" fill="#26a69a"/><rect x="1068.92" y="294.2" width="4.2" height="1.8" fill="#26a69a"/><rect x="1075.51" y="287.8" width="1" height="29.3" fill="#ef5350"/><rect x="1073.91" y="294.2" width="4.2" height="1.2" fill="#ef5350"/><rect x="1080.50" y="279.8" width="1" height="22.4" fill="#26a69a"/><rect x="1078.90" y="281.8" width="4.2" height="12.9" fill="#26a69a"/><rect x="1085.49" y="271.1" width="1" height="16.2" fill="#ef5350"/><rect x="1083.89" y="281.8" width="4.2" height="3.5" fill="#ef5350"/><rect x="1090.48" y="278.5" width="1" height="70.5" fill="#ef5350"/><rect x="1088.88" y="284.8" width="4.2" height="57.2" fill="#ef5350"/><rect x="1095.47" y="340.8" width="1" height="23.6" fill="#ef5350"/><rect x="1093.87" y="342.0" width="4.2" height="8.0" fill="#ef5350"/><rect x="1100.46" y="349.0" width="1" height="52.8" fill="#ef5350"/><rect x="1098.86" y="350.0" width="4.2" height="44.8" fill="#ef5350"/><rect x="1105.45" y="380.6" width="1" height="23.7" fill="#ef5350"/><rect x="1103.85" y="398.0" width="4.2" height="3.8" fill="#ef5350"/><rect x="1110.44" y="399.3" width="1" height="13.7" fill="#ef5350"/><rect x="1108.84" y="401.8" width="4.2" height="4.5" fill="#ef5350"/><rect x="1115.43" y="373.9" width="1" height="33.3" fill="#26a69a"/><rect x="1113.83" y="378.1" width="4.2" height="28.2" fill="#26a69a"/><rect x="1120.42" y="368.9" width="1" height="31.6" fill="#ef5350"/><rect x="1118.82" y="376.9" width="4.2" height="16.1" fill="#ef5350"/><rect x="1125.41" y="374.9" width="1" height="33.8" fill="#26a69a"/><rect x="1123.81" y="386.8" width="4.2" height="6.2" fill="#26a69a"/><rect x="1130.40" y="379.4" width="1" height="22.4" fill="#ef5350"/><rect x="1128.80" y="386.8" width="4.2" height="2.5" fill="#ef5350"/><rect x="1135.39" y="358.2" width="1" height="36.1" fill="#26a69a"/><rect x="1133.79" y="361.4" width="4.2" height="27.4" fill="#26a69a"/><rect x="1140.38" y="357.5" width="1" height="17.4" fill="#ef5350"/><rect x="1138.78" y="362.0" width="4.2" height="3.0" fill="#ef5350"/><rect x="1145.37" y="343.3" width="1" height="30.6" fill="#26a69a"/><rect x="1143.77" y="350.2" width="4.2" height="14.8" fill="#26a69a"/><rect x="1150.36" y="335.8" width="1" height="41.1" fill="#ef5350"/><rect x="1148.76" y="350.2" width="4.2" height="17.2" fill="#ef5350"/><rect x="1155.35" y="345.8" width="1" height="24.8" fill="#26a69a"/><rect x="1153.75" y="352.0" width="4.2" height="16.9" fill="#26a69a"/>
<text x="110.3" y="58" font-size="14" fill="#ffffff" stroke="#ffffff" stroke-width="0.1" textLength="70.8" lengthAdjust="spacingAndGlyphs" font-weight="bold">2023 highs</text>
<text x="389.9" y="512" font-size="14" fill="#ffffff" stroke="#ffffff" stroke-width="0.1" textLength="65" lengthAdjust="spacingAndGlyphs" font-weight="bold">2023 lows</text>
<text x="1262.4" y="63" font-size="10.5" fill="#ffffff" stroke="#ffffff" stroke-width="0.25" textLength="86" lengthAdjust="spacingAndGlyphs">100.00% (1.12806)</text>
<text x="1262.4" y="274.8" font-size="10.5" fill="#ffffff" stroke="#ffffff" stroke-width="0.25" textLength="80" lengthAdjust="spacingAndGlyphs">50.00% (1.08650)</text>
<text x="1262.4" y="485.5" font-size="10.5" fill="#ffffff" stroke="#ffffff" stroke-width="0.25" textLength="74.8" lengthAdjust="spacingAndGlyphs">0.00% (1.04494)</text>
<text x="15.9" y="40.8" font-size="10.2" fill="#b2b5be" stroke="#b2b5be" stroke-width="0.25" textLength="122.7" lengthAdjust="spacingAndGlyphs">Euro / U.S. Dollar, 1D, ICE</text>
<text x="145.8" y="40.8" font-size="10.2" fill="#b2b5be" stroke="#b2b5be" stroke-width="0.25">O</text>
<text x="153.2" y="40.8" font-size="10.2" fill="#26a69a" stroke="#26a69a" stroke-width="0.25" textLength="36.6" lengthAdjust="spacingAndGlyphs">1.06914</text>
<text x="196.6" y="40.8" font-size="10.2" fill="#b2b5be" stroke="#b2b5be" stroke-width="0.25">H</text>
<text x="203.2" y="40.8" font-size="10.2" fill="#26a69a" stroke="#26a69a" stroke-width="0.25" textLength="36.4" lengthAdjust="spacingAndGlyphs">1.07337</text>
<text x="246.6" y="40.8" font-size="10.2" fill="#b2b5be" stroke="#b2b5be" stroke-width="0.25">L</text>
<text x="252.7" y="40.8" font-size="10.2" fill="#26a69a" stroke="#26a69a" stroke-width="0.25" textLength="35.7" lengthAdjust="spacingAndGlyphs">1.06902</text>
<text x="295.8" y="40.8" font-size="10.2" fill="#b2b5be" stroke="#b2b5be" stroke-width="0.25">C</text>
<text x="302.8" y="40.8" font-size="10.2" fill="#26a69a" stroke="#26a69a" stroke-width="0.25" textLength="36.1" lengthAdjust="spacingAndGlyphs">1.07218</text>
<text x="345.9" y="40.8" font-size="10.2" fill="#26a69a" stroke="#26a69a" stroke-width="0.25" textLength="85.4" lengthAdjust="spacingAndGlyphs">+0.00296 (+0.28%)</text>
</g>
<g clip-path="url(#rp)">
<defs><clipPath id="ob"><rect x="9" y="538" width="1358" height="26.2"/></clipPath><clipPath id="os"><rect x="9" y="658.2" width="1358" height="23.8"/></clipPath></defs>
<polygon clip-path="url(#ob)" points="8.4,564.2 8.4,618.2 18.2,600.0 22.4,578.1 26.6,579.8 32.2,585.1 37.2,586.8 42.0,574.2 47.6,583.2 53.2,601.4 62.1,587.4 72.2,611.7 77.0,601.9 82.6,600.8 86.8,608.9 92.4,615.4 98.0,606.1 102.2,590.2 107.8,583.7 112.8,582.3 117.6,563.6 122.3,553.8 131.6,552.4 137.2,556.6 142.8,565.0 147.0,583.2 152.6,587.4 158.2,603.3 161.8,604.2 167.4,598.0 172.2,622.4 176.9,614.0 181.9,618.2 187.0,614.0 192.6,628.8 197.3,626.6 203.8,612.0 207.1,613.1 212.7,624.3 218.3,618.7 222.5,617.3 232.3,633.6 236.5,635.0 247.7,642.0 251.9,640.6 257.0,631.3 262.3,643.4 266.8,637.8 272.9,648.1 277.1,651.2 282.2,640.6 286.9,622.4 292.5,609.2 297.3,629.4 302.3,640.6 307.3,635.8 312.1,647.6 317.1,646.2 322.7,651.2 326.9,650.4 331.1,635.0 336.7,632.2 341.5,643.4 347.1,653.2 352.1,647.6 356.9,637.8 363.9,642.0 376.5,647.0 382.1,656.8 386.3,660.2 391.3,670.0 396.9,648.4 402.2,647.0 406.2,660.2 411.8,663.0 416.8,647.6 421.8,635.0 426.6,625.7 432.2,629.4 437.0,619.6 442.0,614.8 447.0,633.6 451.2,637.8 456.8,623.8 462.1,620.1 466.6,628.5 472.2,616.8 477.0,613.4 481.7,596.6 486.8,614.0 493.8,619.6 502.2,619.6 506.9,607.0 512.0,617.3 517.6,616.8 521.8,604.2 526.5,583.7 531.6,586.8 537.2,592.1 541.4,590.2 547.0,601.4 556.2,594.9 561.8,565.0 567.1,573.4 571.3,573.4 577.2,565.0 581.9,561.4 587.0,570.6 591.7,576.2 595.9,574.2 602.1,568.6 607.1,565.8 611.9,560.8 616.1,568.6 621.7,593.0 626.2,594.4 632.3,609.8 641.3,623.8 646.3,615.4 651.9,623.2 657.0,622.4 663.1,608.4 671.5,574.8 675.7,598.0 681.3,592.1 686.9,584.6 691.7,593.5 696.7,583.2 701.8,582.3 706.5,583.2 711.5,579.0 716.9,569.7 721.3,581.8 726.1,586.0 731.7,587.4 735.9,609.8 740.9,614.5 747.1,609.8 752.1,611.2 756.9,608.9 761.7,613.1 766.7,603.3 771.7,603.3 776.5,609.2 780.7,609.8 785.7,628.5 791.3,626.6 796.1,628.5 800.0,621.0 805.6,625.2 811.2,632.7 816.8,621.8 821.6,631.3 826.6,629.4 831.6,635.0 836.4,629.4 841.1,637.2 846.2,618.2 850.4,636.4 856.0,647.6 863.0,641.4 868.6,636.4 874.2,633.6 879.8,634.1 885.4,650.9 891.0,643.4 896.6,626.6 905.0,624.6 912.0,612.6 917.6,608.9 926.0,609.8 930.7,597.7 935.8,600.0 940.5,603.3 945.6,617.3 951.2,605.0 956.8,597.2 961.0,597.2 971.3,570.0 981.4,580.4 986.1,580.4 990.3,574.2 995.1,603.3 1001.0,603.3 1005.7,609.2 1010.5,611.7 1016.1,592.1 1021.1,614.0 1025.6,630.8 1030.9,620.4 1036.5,621.0 1041.3,623.8 1046.3,634.1 1051.1,633.6 1055.6,646.2 1060.9,634.1 1065.9,612.6 1071.0,611.2 1076.6,611.2 1081.3,603.3 1085.5,604.2 1090.6,637.2 1095.9,642.0 1100.9,659.3 1110.7,662.4 1115.5,641.4 1121.1,646.7 1126.1,643.4 1131.1,643.9 1135.9,625.2 1140.9,626.0 1145.7,616.8 1151.3,626.0 1156.3,616.8 1156.3,564.2" fill="#26a69a" opacity="0.12"/>
<polygon clip-path="url(#os)" points="8.4,658.2 8.4,618.2 18.2,600.0 22.4,578.1 26.6,579.8 32.2,585.1 37.2,586.8 42.0,574.2 47.6,583.2 53.2,601.4 62.1,587.4 72.2,611.7 77.0,601.9 82.6,600.8 86.8,608.9 92.4,615.4 98.0,606.1 102.2,590.2 107.8,583.7 112.8,582.3 117.6,563.6 122.3,553.8 131.6,552.4 137.2,556.6 142.8,565.0 147.0,583.2 152.6,587.4 158.2,603.3 161.8,604.2 167.4,598.0 172.2,622.4 176.9,614.0 181.9,618.2 187.0,614.0 192.6,628.8 197.3,626.6 203.8,612.0 207.1,613.1 212.7,624.3 218.3,618.7 222.5,617.3 232.3,633.6 236.5,635.0 247.7,642.0 251.9,640.6 257.0,631.3 262.3,643.4 266.8,637.8 272.9,648.1 277.1,651.2 282.2,640.6 286.9,622.4 292.5,609.2 297.3,629.4 302.3,640.6 307.3,635.8 312.1,647.6 317.1,646.2 322.7,651.2 326.9,650.4 331.1,635.0 336.7,632.2 341.5,643.4 347.1,653.2 352.1,647.6 356.9,637.8 363.9,642.0 376.5,647.0 382.1,656.8 386.3,660.2 391.3,670.0 396.9,648.4 402.2,647.0 406.2,660.2 411.8,663.0 416.8,647.6 421.8,635.0 426.6,625.7 432.2,629.4 437.0,619.6 442.0,614.8 447.0,633.6 451.2,637.8 456.8,623.8 462.1,620.1 466.6,628.5 472.2,616.8 477.0,613.4 481.7,596.6 486.8,614.0 493.8,619.6 502.2,619.6 506.9,607.0 512.0,617.3 517.6,616.8 521.8,604.2 526.5,583.7 531.6,586.8 537.2,592.1 541.4,590.2 547.0,601.4 556.2,594.9 561.8,565.0 567.1,573.4 571.3,573.4 577.2,565.0 581.9,561.4 587.0,570.6 591.7,576.2 595.9,574.2 602.1,568.6 607.1,565.8 611.9,560.8 616.1,568.6 621.7,593.0 626.2,594.4 632.3,609.8 641.3,623.8 646.3,615.4 651.9,623.2 657.0,622.4 663.1,608.4 671.5,574.8 675.7,598.0 681.3,592.1 686.9,584.6 691.7,593.5 696.7,583.2 701.8,582.3 706.5,583.2 711.5,579.0 716.9,569.7 721.3,581.8 726.1,586.0 731.7,587.4 735.9,609.8 740.9,614.5 747.1,609.8 752.1,611.2 756.9,608.9 761.7,613.1 766.7,603.3 771.7,603.3 776.5,609.2 780.7,609.8 785.7,628.5 791.3,626.6 796.1,628.5 800.0,621.0 805.6,625.2 811.2,632.7 816.8,621.8 821.6,631.3 826.6,629.4 831.6,635.0 836.4,629.4 841.1,637.2 846.2,618.2 850.4,636.4 856.0,647.6 863.0,641.4 868.6,636.4 874.2,633.6 879.8,634.1 885.4,650.9 891.0,643.4 896.6,626.6 905.0,624.6 912.0,612.6 917.6,608.9 926.0,609.8 930.7,597.7 935.8,600.0 940.5,603.3 945.6,617.3 951.2,605.0 956.8,597.2 961.0,597.2 971.3,570.0 981.4,580.4 986.1,580.4 990.3,574.2 995.1,603.3 1001.0,603.3 1005.7,609.2 1010.5,611.7 1016.1,592.1 1021.1,614.0 1025.6,630.8 1030.9,620.4 1036.5,621.0 1041.3,623.8 1046.3,634.1 1051.1,633.6 1055.6,646.2 1060.9,634.1 1065.9,612.6 1071.0,611.2 1076.6,611.2 1081.3,603.3 1085.5,604.2 1090.6,637.2 1095.9,642.0 1100.9,659.3 1110.7,662.4 1115.5,641.4 1121.1,646.7 1126.1,643.4 1131.1,643.9 1135.9,625.2 1140.9,626.0 1145.7,616.8 1151.3,626.0 1156.3,616.8 1156.3,658.2" fill="#ef5350" opacity="0.12"/>
<polyline points="8.4,618.2 18.2,600.0 22.4,578.1 26.6,579.8 32.2,585.1 37.2,586.8 42.0,574.2 47.6,583.2 53.2,601.4 62.1,587.4 72.2,611.7 77.0,601.9 82.6,600.8 86.8,608.9 92.4,615.4 98.0,606.1 102.2,590.2 107.8,583.7 112.8,582.3 117.6,563.6 122.3,553.8 131.6,552.4 137.2,556.6 142.8,565.0 147.0,583.2 152.6,587.4 158.2,603.3 161.8,604.2 167.4,598.0 172.2,622.4 176.9,614.0 181.9,618.2 187.0,614.0 192.6,628.8 197.3,626.6 203.8,612.0 207.1,613.1 212.7,624.3 218.3,618.7 222.5,617.3 232.3,633.6 236.5,635.0 247.7,642.0 251.9,640.6 257.0,631.3 262.3,643.4 266.8,637.8 272.9,648.1 277.1,651.2 282.2,640.6 286.9,622.4 292.5,609.2 297.3,629.4 302.3,640.6 307.3,635.8 312.1,647.6 317.1,646.2 322.7,651.2 326.9,650.4 331.1,635.0 336.7,632.2 341.5,643.4 347.1,653.2 352.1,647.6 356.9,637.8 363.9,642.0 376.5,647.0 382.1,656.8 386.3,660.2 391.3,670.0 396.9,648.4 402.2,647.0 406.2,660.2 411.8,663.0 416.8,647.6 421.8,635.0 426.6,625.7 432.2,629.4 437.0,619.6 442.0,614.8 447.0,633.6 451.2,637.8 456.8,623.8 462.1,620.1 466.6,628.5 472.2,616.8 477.0,613.4 481.7,596.6 486.8,614.0 493.8,619.6 502.2,619.6 506.9,607.0 512.0,617.3 517.6,616.8 521.8,604.2 526.5,583.7 531.6,586.8 537.2,592.1 541.4,590.2 547.0,601.4 556.2,594.9 561.8,565.0 567.1,573.4 571.3,573.4 577.2,565.0 581.9,561.4 587.0,570.6 591.7,576.2 595.9,574.2 602.1,568.6 607.1,565.8 611.9,560.8 616.1,568.6 621.7,593.0 626.2,594.4 632.3,609.8 641.3,623.8 646.3,615.4 651.9,623.2 657.0,622.4 663.1,608.4 671.5,574.8 675.7,598.0 681.3,592.1 686.9,584.6 691.7,593.5 696.7,583.2 701.8,582.3 706.5,583.2 711.5,579.0 716.9,569.7 721.3,581.8 726.1,586.0 731.7,587.4 735.9,609.8 740.9,614.5 747.1,609.8 752.1,611.2 756.9,608.9 761.7,613.1 766.7,603.3 771.7,603.3 776.5,609.2 780.7,609.8 785.7,628.5 791.3,626.6 796.1,628.5 800.0,621.0 805.6,625.2 811.2,632.7 816.8,621.8 821.6,631.3 826.6,629.4 831.6,635.0 836.4,629.4 841.1,637.2 846.2,618.2 850.4,636.4 856.0,647.6 863.0,641.4 868.6,636.4 874.2,633.6 879.8,634.1 885.4,650.9 891.0,643.4 896.6,626.6 905.0,624.6 912.0,612.6 917.6,608.9 926.0,609.8 930.7,597.7 935.8,600.0 940.5,603.3 945.6,617.3 951.2,605.0 956.8,597.2 961.0,597.2 971.3,570.0 981.4,580.4 986.1,580.4 990.3,574.2 995.1,603.3 1001.0,603.3 1005.7,609.2 1010.5,611.7 1016.1,592.1 1021.1,614.0 1025.6,630.8 1030.9,620.4 1036.5,621.0 1041.3,623.8 1046.3,634.1 1051.1,633.6 1055.6,646.2 1060.9,634.1 1065.9,612.6 1071.0,611.2 1076.6,611.2 1081.3,603.3 1085.5,604.2 1090.6,637.2 1095.9,642.0 1100.9,659.3 1110.7,662.4 1115.5,641.4 1121.1,646.7 1126.1,643.4 1131.1,643.9 1135.9,625.2 1140.9,626.0 1145.7,616.8 1151.3,626.0 1156.3,616.8" fill="none" stroke="#7e57c2" stroke-width="1.1"/>
<path d="M8.4,637.2 C9.8,636.4 13.8,634.8 16.8,632.2 C19.8,629.6 23.3,624.9 26.6,621.8 C29.9,618.7 33.1,616.1 36.4,613.4 C39.7,610.7 43.2,607.6 46.2,605.6 C49.2,603.6 51.8,603.0 54.6,601.4 C57.4,599.8 60.0,597.1 63.0,595.8 C66.0,594.5 69.8,594.4 72.8,593.8 C75.8,593.2 78.9,592.3 81.2,592.1 C83.5,591.9 84.0,591.5 86.8,592.4 C89.6,593.2 93.8,596.3 98.0,597.2 C102.2,598.1 108.7,598.1 112.0,598.0 C115.3,597.9 114.8,597.7 117.6,596.3 C120.4,594.9 124.6,592.2 128.8,589.6 C133.0,587.0 139.5,582.6 142.8,580.9 C146.1,579.2 145.6,580.0 148.4,579.5 C151.2,579.0 156.5,578.4 159.6,578.1 C162.7,577.8 164.3,577.0 167.1,577.6 C169.9,578.2 173.1,580.2 176.3,581.8 C179.5,583.4 183.3,585.2 186.1,587.4 C188.9,589.6 190.5,592.4 193.1,594.9 C195.7,597.4 198.2,599.4 201.5,602.2 C204.8,605.0 209.0,609.3 212.7,611.7 C216.4,614.1 219.9,615.1 223.9,616.8 C227.9,618.5 231.8,620.2 236.5,621.8 C241.2,623.4 247.0,625.3 251.9,626.6 C256.8,627.9 261.2,627.9 265.9,629.4 C270.6,630.9 275.7,634.8 279.9,635.8 C284.1,636.8 287.4,635.4 291.1,635.5 C294.8,635.6 297.6,636.0 302.3,636.4 C307.0,636.8 314.9,637.2 319.1,637.8 C323.3,638.3 324.2,639.5 327.5,639.7 C330.8,639.9 334.5,639.4 338.7,639.2 C342.9,639.0 349.0,638.2 352.7,638.6 C356.4,639.0 357.4,640.6 361.1,641.4 C364.8,642.2 370.0,642.5 375.1,643.4 C380.2,644.3 385.9,645.5 391.9,646.8 C397.9,648.1 406.1,650.6 411.2,651.2 C416.3,651.8 419.1,650.8 422.4,650.4 C425.7,650.0 427.5,649.9 430.8,649.0 C434.1,648.1 438.7,645.8 442.0,644.8 C445.3,643.8 447.1,644.1 450.4,642.8 C453.7,641.5 457.9,638.7 461.6,636.9 C465.3,635.1 469.1,634.4 472.8,632.2 C476.5,630.0 480.7,625.7 484.0,623.8 C487.3,621.9 489.1,621.6 492.4,621.0 C495.7,620.4 499.6,620.2 503.6,619.9 C507.6,619.6 512.0,620.2 516.2,619.0 C520.4,617.8 524.4,614.8 528.8,612.6 C533.2,610.4 538.6,606.9 542.8,605.6 C547.0,604.3 549.8,606.9 554.0,605.0 C558.2,603.1 563.8,597.3 568.0,594.4 C572.2,591.5 575.9,589.5 579.1,587.4 C582.4,585.3 584.7,583.1 587.5,581.8 C590.3,580.5 592.6,580.7 595.9,579.8 C599.2,578.9 603.6,577.5 607.1,576.2 C610.6,574.9 613.6,572.6 616.9,572.0 C620.2,571.4 622.7,570.9 626.7,572.5 C630.7,574.1 636.5,578.7 640.7,581.8 C644.9,584.9 648.4,588.5 651.9,591.0 C655.4,593.5 658.4,595.3 661.7,596.6 C665.0,597.9 668.5,597.7 671.5,598.6 C674.5,599.5 676.9,601.3 679.9,602.2 C682.9,603.1 686.4,604.2 689.7,604.2 C693.0,604.2 696.0,603.6 699.5,602.2 C703.0,600.8 707.0,598.0 710.7,595.8 C714.4,593.6 718.4,590.6 721.9,588.8 C725.4,587.0 728.2,585.0 731.7,585.1 C735.2,585.2 738.9,588.0 742.9,589.3 C746.9,590.6 751.1,591.7 755.5,593.0 C759.9,594.3 765.3,595.8 769.5,597.2 C773.7,598.6 777.0,599.3 780.7,601.4 C784.4,603.5 788.7,607.8 791.9,609.8 C795.1,611.8 796.3,612.1 800.0,613.4 C803.7,614.6 809.3,615.9 814.0,617.3 C818.7,618.6 823.3,620.0 828.0,621.5 C832.7,623.0 837.8,625.3 842.0,626.6 C846.2,627.9 849.0,628.5 853.2,629.4 C857.4,630.3 862.8,631.4 867.2,632.2 C871.6,633.0 876.1,633.4 879.8,634.1 C883.5,634.8 885.6,636.2 889.6,636.4 C893.6,636.6 898.9,636.2 903.6,635.5 C908.3,634.8 912.9,634.0 917.6,632.2 C922.3,630.4 926.9,626.8 931.6,624.6 C936.3,622.4 940.9,621.5 945.6,619.0 C950.3,616.5 954.9,613.1 959.6,609.8 C964.3,606.5 968.5,602.3 973.6,599.4 C978.7,596.5 984.2,593.0 990.3,592.1 C996.3,591.2 1005.2,594.0 1009.9,593.8 C1014.6,593.6 1014.1,590.4 1018.3,591.0 C1022.5,591.6 1030.4,594.5 1035.1,597.2 C1039.8,599.9 1042.1,603.2 1046.3,607.0 C1050.5,610.8 1055.6,617.8 1060.3,620.1 C1065.0,622.4 1068.7,620.2 1074.3,621.0 C1079.9,621.8 1087.8,622.7 1093.9,624.6 C1100.0,626.5 1104.6,630.5 1110.7,632.2 C1116.8,633.9 1122.7,633.8 1130.3,635.0 C1137.9,636.2 1152.0,638.5 1156.3,639.2" fill="none" stroke="#e6d53a" stroke-width="1.1"/>
</g>
<text x="1375.2" y="63.2" font-size="10.6" fill="#b2b5be" stroke="#b2b5be" stroke-width="0.25" textLength="36" lengthAdjust="spacingAndGlyphs">1.13000</text>
<text x="1375.2" y="114.0" font-size="10.6" fill="#b2b5be" stroke="#b2b5be" stroke-width="0.25" textLength="36" lengthAdjust="spacingAndGlyphs">1.12000</text>
<text x="1375.2" y="164.8" font-size="10.6" fill="#b2b5be" stroke="#b2b5be" stroke-width="0.25" textLength="36" lengthAdjust="spacingAndGlyphs">1.11000</text>
<text x="1375.2" y="215.6" font-size="10.6" fill="#b2b5be" stroke="#b2b5be" stroke-width="0.25" textLength="36" lengthAdjust="spacingAndGlyphs">1.10000</text>
<text x="1375.2" y="266.4" font-size="10.6" fill="#b2b5be" stroke="#b2b5be" stroke-width="0.25" textLength="36" lengthAdjust="spacingAndGlyphs">1.09000</text>
<text x="1375.2" y="317.2" font-size="10.6" fill="#b2b5be" stroke="#b2b5be" stroke-width="0.25" textLength="36" lengthAdjust="spacingAndGlyphs">1.08000</text>
<text x="1375.2" y="368.0" font-size="10.6" fill="#b2b5be" stroke="#b2b5be" stroke-width="0.25" textLength="36" lengthAdjust="spacingAndGlyphs">1.07000</text>
<text x="1375.2" y="418.8" font-size="10.6" fill="#b2b5be" stroke="#b2b5be" stroke-width="0.25" textLength="36" lengthAdjust="spacingAndGlyphs">1.06000</text>
<text x="1375.2" y="469.6" font-size="10.6" fill="#b2b5be" stroke="#b2b5be" stroke-width="0.25" textLength="36" lengthAdjust="spacingAndGlyphs">1.05000</text>
<text x="1375.2" y="520.4" font-size="10.6" fill="#b2b5be" stroke="#b2b5be" stroke-width="0.25" textLength="36" lengthAdjust="spacingAndGlyphs">1.04000</text>
<g clip-path="url(#ra)">
<text x="1375.2" y="544.5" font-size="10.6" fill="#b2b5be" stroke="#b2b5be" stroke-width="0.25" textLength="25.5" lengthAdjust="spacingAndGlyphs">80.00</text>
<text x="1375.2" y="591.6" font-size="10.6" fill="#b2b5be" stroke="#b2b5be" stroke-width="0.25" textLength="25.5" lengthAdjust="spacingAndGlyphs">60.00</text>
<text x="1375.2" y="638.6" font-size="10.6" fill="#b2b5be" stroke="#b2b5be" stroke-width="0.25" textLength="25.5" lengthAdjust="spacingAndGlyphs">40.00</text>
<text x="1375.2" y="685.7" font-size="10.6" fill="#b2b5be" stroke="#b2b5be" stroke-width="0.25" textLength="25.5" lengthAdjust="spacingAndGlyphs">20.00</text>
</g>
<path d="M1367.2 344.8 H1415 a2 2 0 0 1 2 2 V358 a2 2 0 0 1 -2 2 H1367.2 Z" fill="#26a69a"/>
<text x="1375" y="356" font-size="10.6" fill="#ffffff" stroke="#ffffff" stroke-width="0.45" textLength="36.4" lengthAdjust="spacingAndGlyphs">1.07218</text>
<text x="83.0" y="700" font-size="10.2" fill="#b2b5be" stroke="#b2b5be" stroke-width="0.25" text-anchor="middle">Jul</text>
<text x="187.8" y="700" font-size="10.2" fill="#b2b5be" stroke="#b2b5be" stroke-width="0.25" text-anchor="middle">Aug</text>
<text x="302.6" y="700" font-size="10.2" fill="#b2b5be" stroke="#b2b5be" stroke-width="0.25" text-anchor="middle">Sep</text>
<text x="407.4" y="700" font-size="10.2" fill="#b2b5be" stroke="#b2b5be" stroke-width="0.25" text-anchor="middle">Oct</text>
<text x="517.1" y="700" font-size="10.2" fill="#b2b5be" stroke="#b2b5be" stroke-width="0.25" text-anchor="middle">Nov</text>
<text x="626.9" y="700" font-size="10.2" fill="#b2b5be" stroke="#b2b5be" stroke-width="0.25" text-anchor="middle">Dec</text>
<text x="731.7" y="700" font-size="10.2" fill="#b2b5be" stroke="#b2b5be" stroke-width="0.25" font-weight="bold" text-anchor="middle">2024</text>
<text x="846.5" y="700" font-size="10.2" fill="#b2b5be" stroke="#b2b5be" stroke-width="0.25" text-anchor="middle">Feb</text>
<text x="951.3" y="700" font-size="10.2" fill="#b2b5be" stroke="#b2b5be" stroke-width="0.25" text-anchor="middle">Mar</text>
<text x="1056.1" y="700" font-size="10.2" fill="#b2b5be" stroke="#b2b5be" stroke-width="0.25" text-anchor="middle">Apr</text>
<text x="1165.8" y="700" font-size="10.2" fill="#b2b5be" stroke="#b2b5be" stroke-width="0.25" text-anchor="middle">May</text>
<text x="1280.6" y="700" font-size="10.2" fill="#b2b5be" stroke="#b2b5be" stroke-width="0.25" text-anchor="middle">Jun</text>
<g fill="#d1d4dc"><path d="M8.8 718.2 h8.5 v9 h-3.9 v-5.2 h-4.6z"/><circle cx="19.6" cy="720" r="1.8"/><path d="M22.6 718.2 h3.6 l-3.8 9 h-3.8z"/></g>
<text x="29" y="727.9" font-size="11.5" fill="#d1d4dc" stroke="#d1d4dc" stroke-width="0.25" textLength="62.2" lengthAdjust="spacingAndGlyphs">TradingView</text>
<path d="M1195.20,647.03 L1204.43,647.03 L1204.85,661.71 L1194.36,661.71Z M1190.58,664.23 L1198.97,664.23 L1198.97,670.52 L1202.33,673.46 L1200.48,681.43 L1189.33,681.43Z M1180.94,699.89 L1193.94,699.89 L1200.48,681.43 L1194.78,681.43 L1188.07,692.34 L1183.03,692.34Z M1215.75,646.19 L1225.82,646.19 L1225.40,648.71 L1245.95,648.71 L1244.69,655.84 L1207.36,655.84 L1208.20,651.65 L1214.91,649.97Z" fill="#93959d"/><path d="M1206.94,658.78 L1242.18,658.78 L1235.89,699.89 L1198.13,699.89Z M1214.91,665.49 L1220.79,665.49 L1216.59,674.72 L1211.56,674.72Z M1227.50,665.49 L1232.95,665.49 L1230.85,675.14 L1225.82,675.14Z M1209.46,682.27 L1215.75,682.27 L1213.23,692.34 L1207.36,692.34Z M1220.79,682.27 L1227.92,682.27 L1224.98,692.34 L1221.62,692.34Z" fill="#93959d" fill-rule="evenodd"/><path d="M1255.20,647.03 L1304.69,647.03 L1303.44,654.16 L1253.94,654.16Z M1253.94,654.16 L1261.91,654.16 L1259.39,668.01 L1250.58,668.01Z M1250.58,668.01 L1300.50,668.01 L1298.82,675.56 L1248.91,675.56Z M1295.89,647.03 L1304.69,647.03 L1293.79,695.69 L1289.59,699.89 L1283.30,699.89 L1287.08,695.69Z M1269.88,694.01 L1288.34,694.01 L1287.08,699.89 L1268.62,699.89Z M1245.55,683.11 L1284.56,683.11 L1283.30,690.24 L1243.87,690.24Z" fill="#93959d"/><path d="M1311.08,647.01 L1366.48,647.01 L1354.75,696.54 L1351.51,699.94 L1299.89,699.94Z M1318.10,655.42 L1330.22,655.42 L1321.73,686.67 L1309.23,686.67Z M1320.19,657.96 L1327.90,657.96 L1319.88,684.20 L1312.16,684.20Z M1338.40,647.31 L1340.71,647.31 L1333.30,675.86 L1330.99,675.86Z M1322.19,687.05 L1330.22,687.05 L1326.20,694.38Z M1339.71,658.89 L1353.98,658.89 L1344.34,691.30 L1341.64,691.30 L1351.67,661.59 L1343.95,661.59 L1331.99,691.30 L1327.36,691.30 L1338.94,661.59Z" fill="#93959d" fill-rule="evenodd"/><path d="M1382.17,647.03 L1392.23,647.03 L1380.07,661.71 L1370.42,661.71Z M1371.68,662.13 L1393.91,658.78 L1391.82,666.33 L1369.58,668.85Z M1390.14,662.13 L1394.33,662.13 L1376.30,679.75 L1367.07,679.75Z M1364.97,679.75 L1385.52,679.75 L1384.68,686.46 L1363.71,686.46Z M1363.71,692.34 L1383.85,692.34 L1382.17,699.89 L1361.19,699.89Z M1398.11,647.03 L1426.63,647.03 L1425.37,653.74 L1396.43,653.74Z M1415.72,653.74 L1425.37,653.74 L1409.01,669.68 L1398.95,669.68Z M1400.62,653.74 L1407.34,653.74 L1422.02,667.17 L1414.89,667.17Z M1392.23,667.17 L1422.02,667.17 L1420.76,673.88 L1390.98,673.88Z M1397.27,676.40 L1419.92,676.40 L1418.66,683.11 L1396.01,683.11Z M1400.62,683.11 L1408.17,683.11 L1406.50,692.34 L1398.53,692.34Z M1385.10,692.34 L1414.89,692.34 L1413.21,699.89 L1383.43,699.89Z" fill="#93959d"/>
<line x1="1181" y1="658.5" x2="1367" y2="658.5" stroke="#c8c9cc" stroke-width="1" stroke-dasharray="3.2,3.3" opacity="0.6"/>
<text x="1280.6" y="700" font-size="10.2" fill="#d8d9dc" stroke="#d8d9dc" stroke-width="0.25" text-anchor="middle">Jun</text>
<g clip-path="url(#ra)"><text x="1375.2" y="685.7" font-size="10.6" fill="#e0e1e4" stroke="#e0e1e4" stroke-width="0.25" textLength="25.5" lengthAdjust="spacingAndGlyphs">20.00</text></g>
<g font-family="Liberation Sans" font-weight="bold" font-style="italic" font-size="30" fill="#14203d" stroke="#14203d" stroke-width="0.6"><text x="1196.8" y="734.2" transform="translate(1196.8,734.2) scale(1.23,1) translate(-1196.8,-734.2)">z</text><text x="1223.0" y="734.2" transform="translate(1223.0,734.2) scale(1.29,1) translate(-1223.0,-734.2)">z</text><text x="1251.1000000000001" y="734.2" transform="translate(1251.1000000000001,734.2) scale(1.22,1) translate(-1251.1000000000001,-734.2)">r</text><text x="1273.2" y="734.2" transform="translate(1273.2,734.2) scale(1.54,1) translate(-1273.2,-734.2)">t</text><text x="1293.6000000000001" y="734.2" transform="translate(1293.6000000000001,734.2) scale(1.43,1) translate(-1293.6000000000001,-734.2)">0</text><text x="1326.7" y="734.2" transform="translate(1326.7,734.2) scale(1.0,1) translate(-1326.7,-734.2)">1</text><text x="1353.0" y="734.2" transform="translate(1353.0,734.2) scale(1.35,1) translate(-1353.0,-734.2)">.</text><text x="1370.4" y="734.2" transform="translate(1370.4,734.2) scale(1.21,1) translate(-1370.4,-734.2)">c</text><text x="1396.2" y="734.2" transform="translate(1396.2,734.2) scale(1.28,1) translate(-1396.2,-734.2)">n</text></g>
<g font-family="Liberation Sans" font-weight="bold" font-style="italic" font-size="30" fill="#2b59ad" stroke="#2b59ad" stroke-width="0.6"><text x="1195.6" y="733" transform="translate(1195.6,733) scale(1.23,1) translate(-1195.6,-733)">z</text><text x="1221.8" y="733" transform="translate(1221.8,733) scale(1.29,1) translate(-1221.8,-733)">z</text><text x="1249.9" y="733" transform="translate(1249.9,733) scale(1.22,1) translate(-1249.9,-733)">r</text><text x="1272" y="733" transform="translate(1272,733) scale(1.54,1) translate(-1272,-733)">t</text><text x="1292.4" y="733" transform="translate(1292.4,733) scale(1.43,1) translate(-1292.4,-733)">0</text><text x="1325.5" y="733" transform="translate(1325.5,733) scale(1.0,1) translate(-1325.5,-733)">1</text><text x="1351.8" y="733" transform="translate(1351.8,733) scale(1.35,1) translate(-1351.8,-733)">.</text><text x="1369.2" y="733" transform="translate(1369.2,733) scale(1.21,1) translate(-1369.2,-733)">c</text><text x="1395" y="733" transform="translate(1395,733) scale(1.28,1) translate(-1395,-733)">n</text></g>
</svg></body></html>
